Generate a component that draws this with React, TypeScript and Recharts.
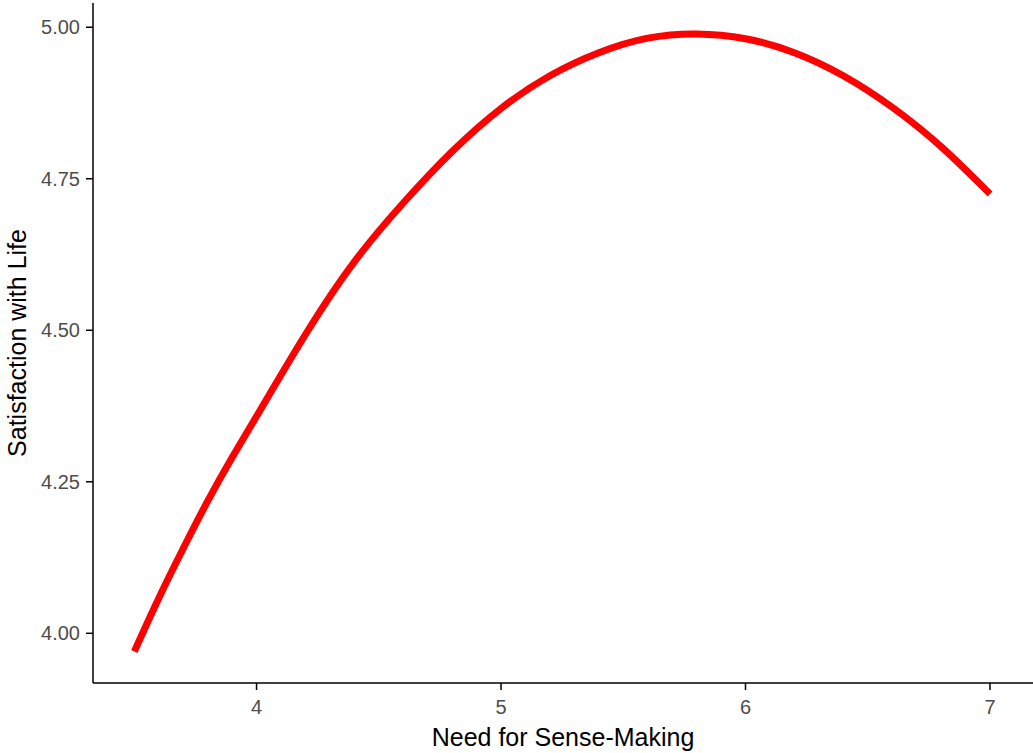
import React from 'react';
import { LineChart, Line, XAxis, YAxis } from 'recharts';

// values
const needValues = [3.5, 3.6, 3.7, 3.8, 3.9, 4.0, 4.2, 4.4, 4.6, 4.8, 5.0, 5.2, 5.4, 5.6, 5.8, 6.0, 6.2, 6.4, 6.6, 6.8, 7.0];
const lifeValues = [3.97, 4.058, 4.14, 4.218, 4.29, 4.358, 4.493, 4.613, 4.71, 4.795, 4.866, 4.92, 4.958, 4.982, 4.989, 4.981, 4.958, 4.92, 4.868, 4.803, 4.725];

const xTicks = [4, 5, 6, 7];
const yTicks = [4.0, 4.25, 4.5, 4.75, 5.0];

const data = needValues.map((x, i) => ({ need: x, life: lifeValues[i] }));

const FONT = '"Liberation Sans", Arial, sans-serif';

function YTitle({ viewBox }: any) {
  const cy = viewBox.y + viewBox.height / 2;
  return (
    <text
      x={26}
      y={cy}
      transform={`rotate(-90 26 ${cy})`}
      textAnchor="middle"
      fontFamily={FONT}
      fontSize={25}
      fill="#000"
    >
      Satisfaction with Life
    </text>
  );
}

function XTitle({ viewBox }: any) {
  const cx = viewBox.x + viewBox.width / 2;
  return (
    <text x={cx} y={746} textAnchor="middle" fontFamily={FONT} fontSize={25} fill="#000">
      Need for Sense-Making
    </text>
  );
}

export default function App() {
  return (
    <div style={{ position: 'absolute', left: 0, top: 0, width: 1033, height: 753, background: '#fff' }}>
      <LineChart width={1033} height={753} data={data} margin={{ top: 3, right: 0, left: 0, bottom: 0 }}>
        <XAxis
          dataKey="need"
          type="number"
          domain={[3.331, 7.176]}
          ticks={xTicks}
          allowDataOverflow
          height={70}
          tickSize={7}
          tickMargin={10}
          tick={{ fill: '#4d4d4d', fontSize: 20, fontFamily: FONT }}
          axisLine={{ stroke: '#000', strokeWidth: 1.5 }}
          tickLine={{ stroke: '#000', strokeWidth: 1.5 }}
          label={{ content: XTitle }}
        />
        <YAxis
          type="number"
          domain={[3.918, 5.04]}
          ticks={yTicks}
          allowDataOverflow
          width={93}
          tickSize={7}
          tickMargin={6}
          tickFormatter={(v: number) => v.toFixed(2)}
          tick={{ fill: '#4d4d4d', fontSize: 20, fontFamily: FONT }}
          axisLine={{ stroke: '#000', strokeWidth: 1.5 }}
          tickLine={{ stroke: '#000', strokeWidth: 1.5 }}
          label={{ content: YTitle }}
        />
        <Line
          type="natural"
          dataKey="life"
          stroke="#ff0000"
          strokeWidth={7}
          dot={false}
          activeDot={false}
          isAnimationActive={false}
        />
      </LineChart>
    </div>
  );
}
